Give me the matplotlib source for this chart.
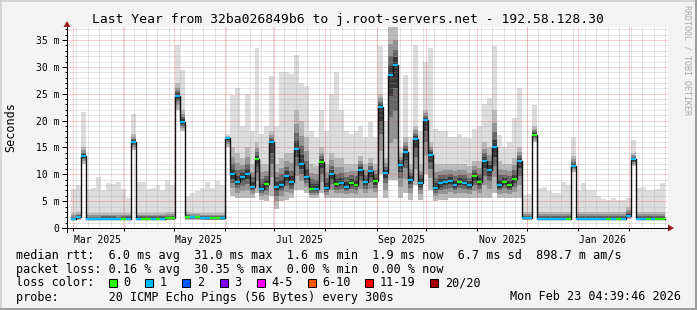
import numpy as np
import pandas as pd
import matplotlib
matplotlib.use("Agg")
import matplotlib.pyplot as plt
import matplotlib.dates as mdates
from matplotlib.lines import Line2D
from matplotlib.patches import Rectangle, Polygon

W, H = 697, 310

# one value per 3-day step, first step starts 2025-02-28
step_start = "2025-02-28"
step_days = 3

median_ms = [
    1.7, 2.0, 13.4, 1.7, 1.7, 1.7, 1.75, 1.75, 1.75, 1.7,
    1.75, 1.75, 16.1, 1.75, 1.75, 1.75, 1.75, 1.75, 1.75, 1.8,
    1.8, 24.6, 19.8, 2.1, 2.0, 2.0, 1.9, 1.9, 1.85, 1.8,
    1.8, 16.7, 10.0, 8.6, 9.5, 10.0, 7.7, 12.8, 7.3, 8.2,
    16.0, 7.7, 8.0, 9.7, 8.5, 14.7, 12.0, 9.5, 7.2, 7.3,
    12.3, 7.5, 10.0, 8.2, 8.4, 7.7, 8.3, 8.1, 10.8, 8.5,
    10.6, 8.7, 22.5, 10.2, 28.4, 30.4, 11.7, 14.2, 9.0, 16.6,
    8.3, 20.1, 13.6, 7.5, 8.3, 8.5, 8.8, 8.0, 8.6, 8.4,
    8.0, 9.6, 8.5, 12.5, 10.8, 15.0, 8.0, 8.6, 8.0, 9.2,
    12.5, 1.8, 1.8, 17.3, 1.75, 1.75, 1.75, 1.75, 1.75, 1.75,
    1.75, 11.6, 1.75, 1.75, 1.75, 1.75, 1.75, 1.75, 1.75, 1.75,
    1.75, 1.75, 2.3, 12.8, 1.75, 1.75, 1.75, 1.75, 1.75, 1.75,
]

# lost pings (of 20) per step
loss_count = [
    1, 1, 1, 1, 1, 1, 1, 1, 1, 1,
    0, 1, 1, 1, 0, 0, 1, 0, 1, 0,
    0, 1, 1, 0, 1, 0, 1, 1, 0, 0,
    1, 1, 1, 1, 1, 1, 1, 0, 1, 0,
    1, 1, 1, 1, 1, 1, 1, 1, 0, 1,
    0, 1, 1, 0, 1, 1, 0, 0, 1, 1,
    1, 0, 1, 1, 1, 1, 1, 1, 1, 1,
    1, 1, 1, 1, 1, 1, 1, 1, 0, 1,
    1, 0, 0, 1, 1, 1, 1, 0, 0, 0,
    1, 1, 1, 0, 1, 1, 1, 1, 1, 1,
    0, 1, 1, 1, 1, 1, 1, 1, 0, 1,
    0, 1, 1, 1, 1, 1, 0, 1, 0, 0,
]

# smoke: lowest ping, top of the dense band, highest ping (ms)
smoke_lo = [
    1.4, 1.4, 12.0, 1.4, 1.4, 1.4, 1.4, 1.4, 1.4, 1.4,
    1.4, 1.4, 14.5, 1.4, 1.4, 1.4, 1.4, 1.4, 1.4, 1.4,
    1.4, 22.0, 18.0, 1.5, 1.5, 1.5, 1.5, 1.4, 1.4, 1.4,
    1.4, 15.0, 6.0, 5.5, 5.5, 5.5, 5.5, 6.5, 5.3, 5.0,
    6.0, 3.5, 5.0, 5.2, 5.5, 7.0, 7.0, 6.5, 5.5, 5.5,
    6.5, 5.5, 5.5, 5.5, 5.5, 5.5, 5.5, 5.5, 5.5, 5.5,
    5.5, 5.5, 10.0, 5.5, 9.0, 9.0, 5.5, 6.5, 5.2, 8.0,
    5.2, 10.0, 7.0, 5.0, 5.2, 5.2, 5.5, 5.5, 5.5, 5.5,
    5.5, 5.5, 5.5, 5.5, 5.5, 6.5, 5.5, 5.5, 5.5, 5.5,
    5.5, 1.5, 1.5, 16.0, 1.5, 1.5, 1.5, 1.5, 1.5, 1.5,
    1.5, 10.5, 1.5, 1.5, 1.5, 1.5, 1.5, 1.5, 1.5, 1.5,
    1.5, 1.5, 1.6, 11.5, 1.5, 1.5, 1.5, 1.5, 1.5, 1.5,
]
smoke_mid = [
    2.8, 3.0, 15.0, 2.8, 2.8, 2.8, 2.8, 2.8, 2.8, 2.8,
    2.8, 2.8, 17.5, 2.8, 2.8, 2.8, 2.8, 2.8, 2.8, 3.0,
    3.0, 27.0, 22.0, 3.0, 2.8, 2.8, 2.8, 2.8, 2.8, 2.8,
    2.8, 17.2, 15.0, 14.0, 13.0, 15.0, 12.0, 16.0, 12.0, 12.0,
    18.0, 12.0, 13.0, 14.0, 14.0, 22.0, 20.0, 17.0, 12.0, 11.5,
    15.0, 12.0, 14.0, 13.0, 13.0, 12.0, 12.0, 12.0, 13.5, 12.0,
    13.0, 12.0, 25.0, 13.0, 37.5, 37.5, 14.0, 17.0, 12.0, 19.0,
    12.0, 22.0, 16.0, 12.0, 12.0, 12.0, 12.0, 12.0, 12.0, 12.0,
    11.5, 12.5, 12.5, 16.0, 15.0, 22.0, 12.5, 12.0, 12.0, 13.0,
    15.0, 3.0, 3.0, 19.0, 3.0, 3.0, 3.0, 3.0, 3.0, 3.0,
    3.0, 13.5, 3.0, 3.0, 3.0, 3.0, 3.0, 3.0, 3.0, 3.0,
    3.0, 3.0, 4.0, 14.0, 3.0, 3.0, 3.0, 3.0, 3.0, 3.0,
]
smoke_hi = [
    7.3, 8.0, 21.6, 7.3, 7.5, 9.5, 7.0, 8.3, 8.2, 8.6,
    7.3, 5.6, 21.2, 8.5, 8.6, 7.3, 7.5, 8.0, 7.0, 9.0,
    8.0, 34.0, 29.4, 6.0, 6.5, 6.8, 7.5, 8.5, 7.5, 8.8,
    8.0, 17.5, 24.8, 26.0, 19.0, 25.0, 18.0, 33.5, 17.5, 19.0,
    28.3, 19.0, 29.0, 29.0, 28.6, 32.2, 27.0, 26.5, 18.0, 17.0,
    22.0, 18.0, 25.0, 29.0, 22.0, 18.0, 17.5, 18.0, 19.0, 17.0,
    19.7, 17.0, 33.8, 20.0, 37.5, 37.5, 15.0, 28.5, 17.0, 34.0,
    18.0, 31.0, 33.6, 18.5, 18.0, 18.0, 17.0, 17.0, 17.5, 17.0,
    16.8, 18.5, 19.0, 23.0, 24.3, 33.8, 17.3, 15.0, 16.0, 20.5,
    26.0, 6.1, 6.3, 22.9, 7.4, 7.6, 6.8, 6.5, 6.6, 8.6,
    8.0, 17.0, 7.0, 8.3, 7.0, 7.0, 6.0, 5.4, 5.3, 5.5,
    5.3, 5.2, 5.5, 16.4, 7.4, 7.6, 7.0, 7.0, 7.2, 8.3,
]

loss_colors = {0: "#26ff00", 1: "#00b8ff", 2: "#0059ff", 3: "#7e00ff",
               5: "#ff00ff", 10: "#ff5500", 19: "#ff0000", 20: "#a10000"}
legend_keys = [(0, "0"), (1, "1"), (2, "2"), (3, "3"), (5, "4-5"),
               (10, "6-10"), (19, "11-19"), (20, "20/20")]

med = np.array(median_ms)
lo = np.array(smoke_lo)
mid = np.array(smoke_mid)
hi = np.array(smoke_hi)
n = len(med)
edges = pd.date_range(step_start, periods=n + 1, freq=f"{step_days}D")
x = mdates.date2num(edges)

plt.rcParams["font.family"] = "DejaVu Sans Mono"
fig = plt.figure(figsize=(W / 100, H / 100), dpi=100, facecolor="#f3f3f3")
ax = fig.add_axes([67 / W, 1 - 228 / H, (668 - 67) / W, 201 / H])
ax.set_facecolor("white")

def fx(px):
    return px / W

def fy(py):
    return 1 - py / H

def step_fill(a, b, color, z):
    ax.fill_between(x, np.append(a, a[-1]), np.append(b, b[-1]), step="post",
                    color=color, lw=0, zorder=z)

# smoke, darker towards the median
step_fill(lo, hi, "#dddddd", 1)
for f, c in zip([1.0, 0.65, 0.4, 0.2], ["#bababa", "#939393", "#666666", "#383838"]):
    step_fill(med - (med - lo) * f, med + (mid - med) * f, c, 2)

# grid
month_starts = mdates.date2num(pd.date_range("2025-03-01", "2026-02-01", freq="MS"))
weeks = mdates.date2num(pd.date_range("2025-02-24", "2026-02-28", freq="W-MON"))
for w in weeks:
    ax.axvline(w, color="#a0a0a0", alpha=0.55, lw=0.72, dashes=(1, 1), zorder=3)
for v in range(1, 38):
    if v % 5:
        ax.axhline(v, color="#a0a0a0", alpha=0.55, lw=0.72, dashes=(1, 1), zorder=3)
for m in month_starts:
    ax.axvline(m, color="#e85050", alpha=0.55, lw=0.72, dashes=(1, 1), zorder=3)
for v in range(5, 36, 5):
    ax.axhline(v, color="#e85050", alpha=0.55, lw=0.72, dashes=(1, 1), zorder=3)

# median line coloured by loss
ax.step(x, np.append(med, med[-1]), where="post", color="#111111", lw=1.0, zorder=5)
ax.hlines(med, x[:-1], x[1:], colors=[loss_colors[k] for k in loss_count],
          lw=1.6, zorder=6)

left = mdates.date2num(pd.Timestamp("2025-03-01")) - 3.64
right = mdates.date2num(pd.Timestamp("2025-03-01")) + 360.6
ax.set_xlim(left, right)
ax.set_ylim(0, 201 / 5.37)
for s in ax.spines.values():
    s.set_visible(False)

ax.set_yticks(range(0, 36, 5))
ax.set_yticklabels(["0"] + [f"{v} m" for v in range(5, 36, 5)], fontsize=7)
ax.set_yticks(range(0, 38), minor=True)
ax.tick_params(axis="y", which="major", length=3.6, width=0.72, pad=2)
ax.tick_params(axis="y", which="minor", length=1.4, width=0.72)

label_months = pd.to_datetime(["2025-03-01", "2025-05-01", "2025-07-01",
                               "2025-09-01", "2025-11-01", "2026-01-01"])
ax.set_xticks(mdates.date2num(label_months + pd.Timedelta(days=15)))
ax.set_xticklabels([d.strftime("%b %Y") for d in label_months], fontsize=7)
ax.tick_params(axis="x", which="major", length=0, pad=5)
ax.set_xticks(month_starts, minor=True)
ax.tick_params(axis="x", which="minor", length=2.2, width=0.72)

# axes with arrows
fig.add_artist(Line2D([fx(62), fx(668)], [fy(228), fy(228)], color="black", lw=0.72))
fig.add_artist(Line2D([fx(67), fx(67)], [fy(232), fy(27)], color="black", lw=0.72))
fig.add_artist(Polygon([(fx(668), fy(224.5)), (fx(668), fy(231.5)), (fx(674), fy(228))],
                       closed=True, color="#9a1c1c", lw=0))
fig.add_artist(Polygon([(fx(63.5), fy(27)), (fx(70.5), fy(27)), (fx(67), fy(21))],
                       closed=True, color="#9a1c1c", lw=0))

# frame
fig.add_artist(Line2D([0, 1], [fy(0.5), fy(0.5)], color="#d0d0d0", lw=1.2))
fig.add_artist(Line2D([fx(0.5), fx(0.5)], [0, 1], color="#d0d0d0", lw=1.2))
fig.add_artist(Line2D([0, 1], [fy(309), fy(309)], color="#9e9e9e", lw=1.5))
fig.add_artist(Line2D([fx(696), fx(696)], [0, 1], color="#9e9e9e", lw=1.5))

fig.text(fx(347.5), fy(19), "Last Year from 32ba026849b6 to j.root-servers.net - 192.58.128.30",
         ha="center", va="center", fontsize=9.4)
fig.text(fx(11), fy(127), "Seconds", rotation=90, ha="center", va="center", fontsize=8.5)
fig.text(fx(687), fy(5), "RRDTOOL / TOBI OETIKER", rotation=270, ha="center", va="top",
         fontsize=6, color="#a8a8a8")

lines = [
    "median rtt:  6.0 ms avg  31.0 ms max  1.6 ms min  1.9 ms now  6.7 ms sd  898.7 m am/s",
    "packet loss: 0.16 % avg  30.35 % max  0.00 % min  0.00 % now",
    "loss color:",
    "probe:       20 ICMP Echo Pings (56 Bytes) every 300s",
]
for i, t in enumerate(lines):
    fig.text(fx(16), fy(255 + 14 * i), t, ha="left", va="center", fontsize=8.5)
fig.text(fx(681), fy(297), "Mon Feb 23 04:39:46 2026", ha="right", va="center", fontsize=8.5)

box_px = [109, 145, 182, 220, 257, 308, 365, 430]
lab_px = [123, 160, 197, 234, 271, 322, 380, 445]
for (k, lab), bx, lx in zip(legend_keys, box_px, lab_px):
    fig.add_artist(Rectangle((fx(bx), fy(287)), 8 / W, 8 / H, facecolor=loss_colors[k],
                             edgecolor="black", lw=0.72))
    fig.text(fx(lx), fy(283), lab, ha="left", va="center", fontsize=8.5)

fig.savefig("out.png", dpi=100, facecolor=fig.get_facecolor())
